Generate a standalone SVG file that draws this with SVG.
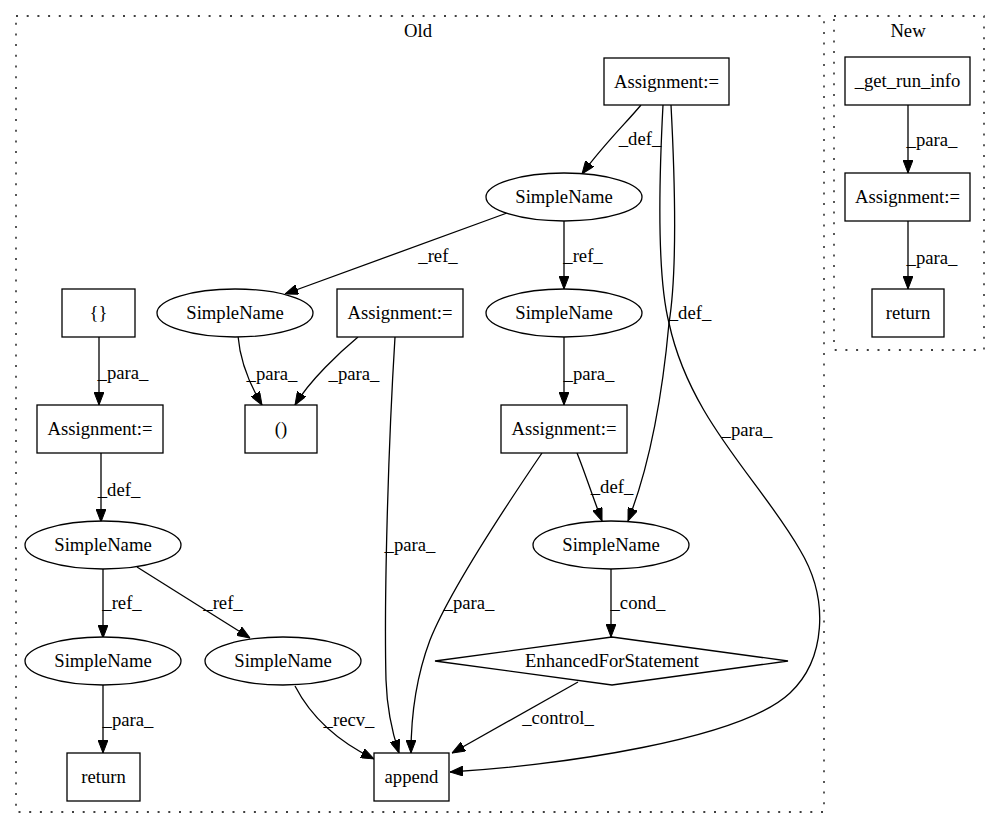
<svg xmlns="http://www.w3.org/2000/svg" width="997" height="828" viewBox="0 0 997 828">
<style>
text{font-family:"Liberation Serif","Times New Roman",serif;font-size:18.67px;fill:#000;text-anchor:middle}
.n{fill:#fff;stroke:#000;stroke-width:1.3}
.e{fill:none;stroke:#000;stroke-width:1.3;marker-end:url(#ah)}
.c{fill:none;stroke:#000;stroke-width:1.3;stroke-dasharray:2 8.7}
</style>
<defs>
<marker id="ah" markerUnits="userSpaceOnUse" viewBox="0 0 13 10" refX="13" refY="5" markerWidth="13" markerHeight="10" orient="auto">
<path d="M0,0 L13,5 L0,10 z" fill="#000" stroke="#000" stroke-width="1"/>
</marker>
</defs>
<rect width="997" height="828" fill="#fff"/>
<g id="cluster_old">
<rect class="c" x="16" y="16" width="808" height="796"/>
<text x="418" y="37">Old</text>
</g>
<g id="cluster_new">
<rect class="c" x="834" y="16" width="150" height="334"/>
<text x="908" y="37">New</text>
</g>
<g id="edges">
<path class="e" d="M641,105 C627,122 604,144 582,174"/>
<text x="640" y="145">_def_</text>
<path class="e" d="M671,105 C676,200 676,280 669,323 C662,400 648,470 628,521"/>
<text x="690" y="319">_def_</text>
<path class="e" d="M663,105 C658,200 658,280 669,323 C690,420 760,480 800,550 C830,600 825,660 790,693 C740,740 560,765 450,772"/>
<text x="747" y="436">_para_</text>
<path class="e" d="M507,213 L285,294"/>
<text x="438" y="262">_ref_</text>
<path class="e" d="M564,221 L564,289"/>
<text x="583" y="262">_ref_</text>
<path class="e" d="M238,336 C240,360 250,385 262,405"/>
<text x="272" y="380">_para_</text>
<path class="e" d="M358,337 C340,352 310,380 295,405"/>
<text x="354" y="380">_para_</text>
<path class="e" d="M395,337 C388,450 384,600 386,680 C387,710 393,735 399,753"/>
<text x="410" y="551">_para_</text>
<path class="e" d="M564,337 L564,405"/>
<text x="589" y="380">_para_</text>
<path class="e" d="M577,453 C584,470 592,495 602,521"/>
<text x="612" y="493">_def_</text>
<path class="e" d="M542,453 C510,500 450,590 430,640 C415,680 411,720 411,753"/>
<text x="469" y="609">_para_</text>
<path class="e" d="M611,568 L611,637"/>
<text x="638" y="609">_cond_</text>
<path class="e" d="M578,682 L452,753"/>
<text x="558" y="724">_control_</text>
<path class="e" d="M99,337 L99,405"/>
<text x="123" y="379">_para_</text>
<path class="e" d="M101,453 L101,522"/>
<text x="119" y="496">_def_</text>
<path class="e" d="M103,568 L103,638"/>
<text x="122" y="609">_ref_</text>
<path class="e" d="M137,567 L250,638"/>
<text x="223" y="609">_ref_</text>
<path class="e" d="M103,684 L103,753"/>
<text x="128" y="726">_para_</text>
<path class="e" d="M295,686 C310,715 335,740 374,759"/>
<text x="349" y="726">_recv_</text>
<path class="e" d="M908,105 L908,173"/>
<text x="932" y="146">_para_</text>
<path class="e" d="M908,221 L908,289"/>
<text x="932" y="264">_para_</text>
</g>
<g id="n_assign1"><rect class="n" x="604" y="58" width="125" height="47"/><text x="666.5" y="88">Assignment:=</text></g>
<g id="n_sn1"><ellipse class="n" cx="564" cy="197" rx="78" ry="24"/><text x="564" y="203">SimpleName</text></g>
<g id="n_sn2"><ellipse class="n" cx="235" cy="313" rx="78" ry="24"/><text x="235" y="319">SimpleName</text></g>
<g id="n_sn3"><ellipse class="n" cx="564" cy="313" rx="78" ry="24"/><text x="564" y="319">SimpleName</text></g>
<g id="n_assign2"><rect class="n" x="337" y="289" width="126" height="48"/><text x="400" y="319">Assignment:=</text></g>
<g id="n_braces"><rect class="n" x="62" y="289" width="73" height="48"/><text x="98.5" y="319">{}</text></g>
<g id="n_assign3"><rect class="n" x="37" y="405" width="126" height="48"/><text x="100" y="435">Assignment:=</text></g>
<g id="n_paren"><rect class="n" x="245" y="405" width="72" height="48"/><text x="281" y="435">()</text></g>
<g id="n_assign4"><rect class="n" x="501" y="405" width="126" height="48"/><text x="564" y="435">Assignment:=</text></g>
<g id="n_sn4"><ellipse class="n" cx="103" cy="545" rx="78" ry="24"/><text x="103" y="551">SimpleName</text></g>
<g id="n_sn7"><ellipse class="n" cx="611" cy="545" rx="78" ry="24"/><text x="611" y="551">SimpleName</text></g>
<g id="n_sn5"><ellipse class="n" cx="103" cy="661" rx="78" ry="24"/><text x="103" y="667">SimpleName</text></g>
<g id="n_sn6"><ellipse class="n" cx="283" cy="661" rx="78" ry="24"/><text x="283" y="667">SimpleName</text></g>
<g id="n_efs"><polygon class="n" points="435,661 612,637 788,661 612,685"/><text x="612" y="667">EnhancedForStatement</text></g>
<g id="n_return1"><rect class="n" x="67" y="753" width="73" height="48"/><text x="103.5" y="783">return</text></g>
<g id="n_append"><rect class="n" x="374" y="753" width="75" height="48"/><text x="411.5" y="783">append</text></g>
<g id="n_getruninfo"><rect class="n" x="845" y="57" width="125" height="48"/><text x="907.5" y="87">_get_run_info</text></g>
<g id="n_assign5"><rect class="n" x="845" y="173" width="125" height="48"/><text x="907.5" y="203">Assignment:=</text></g>
<g id="n_return2"><rect class="n" x="872" y="289" width="72" height="48"/><text x="908" y="319">return</text></g>
</svg>
